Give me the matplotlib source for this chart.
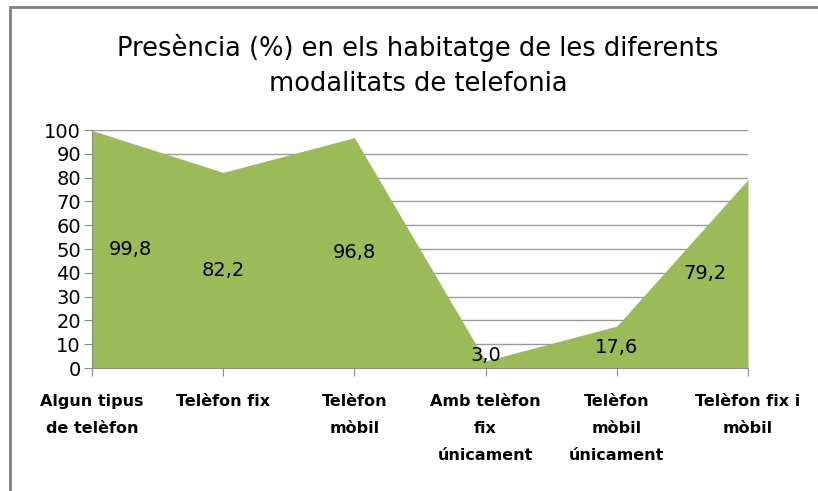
import numpy as np
import matplotlib.pyplot as plt
from matplotlib.patches import Rectangle

categories = ["Algun tipus\nde telèfon", "Telèfon fix", "Telèfon\nmòbil",
              "Amb telèfon\nfix\núnicament", "Telèfon\nmòbil\núnicament", "Telèfon fix i\nmòbil"]
values = [99.8, 82.2, 96.8, 3.0, 17.6, 79.2]
value_labels = ["99,8", "82,2", "96,8", "3,0", "17,6", "79,2"]
yticks = list(range(0, 101, 10))

green = "#9BBB59"
grid_col = "#8C8C8C"

fig = plt.figure(figsize=(8.18, 4.91), dpi=100)
ax = fig.add_axes([0.1125, 0.2505, 0.8019, 0.4847])

x = np.arange(len(values))
ax.fill_between(x, values, 0, color=green, linewidth=0, zorder=2)

ax.set_xlim(0, len(values) - 1)
ax.set_ylim(0, 100)
ax.set_yticks(yticks)
ax.yaxis.grid(True, color="#9A9A9A", linewidth=1, zorder=0)
ax.set_axisbelow(True)

ax.set_xticks(x)
ax.set_xticklabels(categories, fontsize=11.5, fontweight="bold", linespacing=2.0, va="top")
ax.tick_params(axis="x", length=6, color=grid_col, pad=13)
ax.tick_params(axis="y", length=6, color=grid_col, labelsize=14, pad=2)

for side in ["top", "right"]:
    ax.spines[side].set_visible(False)
for side in ["left", "bottom"]:
    ax.spines[side].set_color(grid_col)

# data labels centred in the area, like Excel does
for i, (v, lab) in enumerate(zip(values, value_labels)):
    dx = 0.0
    if i == 0:
        dx = 0.29
    elif i == len(values) - 1:
        dx = -0.33
    ax.text(i + dx, max(v / 2, 5.3), lab, ha="center", va="center", fontsize=14, zorder=3)

fig.text(0.511, 0.867, "Presència (%) en els habitatge de les diferents\nmodalitats de telefonia",
         ha="center", va="center", fontsize=18.5, linespacing=1.45)

# chart frame
fig.patches.append(Rectangle((10 / 818, -0.1), 1.2, 1 - 7 / 491 + 0.1, transform=fig.transFigure,
                             fill=False, edgecolor="#7F7F7F", linewidth=2))

fig.savefig("out.png", dpi=100)
